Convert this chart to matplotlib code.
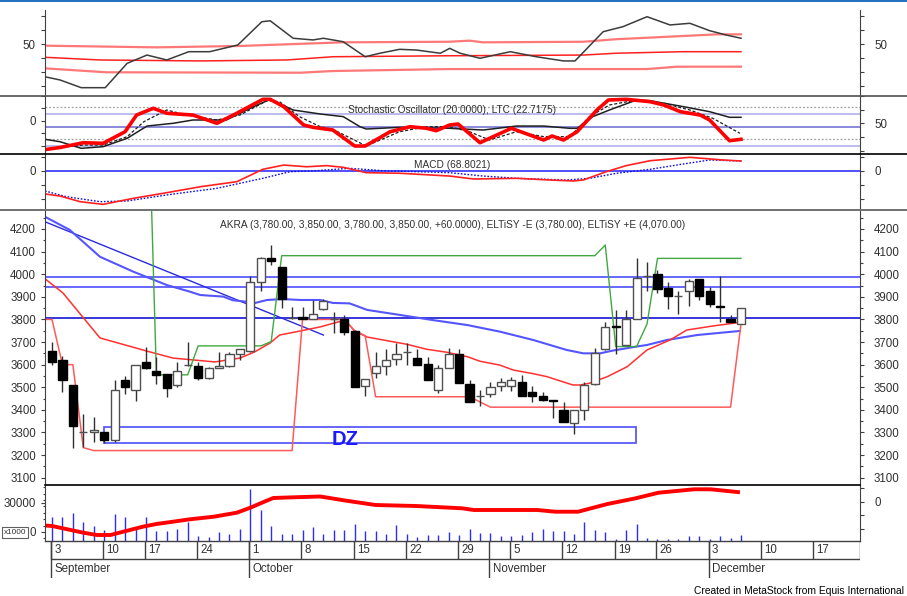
import matplotlib
matplotlib.use("Agg")
import matplotlib.pyplot as plt
from matplotlib import font_manager
from matplotlib.lines import Line2D
from matplotlib.patches import Rectangle

# ---- candles: AKRA daily, trading-day index 0 = 3 Sep 2018 ----
opens = [3660, 3620, 3510, 3300, 3300, 3300, 3265, 3530, 3490, 3610,
         3570, 3560, 3510, 3600, 3595, 3540, 3585, 3595, 3645, 3660,
         3965, 4070, 4030, 3805, 3810, 3800, 3845, 3800, 3800, 3750,
         3505, 3565, 3595, 3625, 3655, 3630, 3605, 3490, 3585, 3645,
         3515, 3460, 3470, 3505, 3505, 3525, 3480, 3460, 3445, 3400,
         3340, 3400, 3515, 3670, 3770, 3685, 3800, 3990, 4000, 3940,
         3905, 3925, 3980, 3925, 3860, 3800, 3780]
highs = [3700, 3640, 3510, 3380, 3370, 3300, 3530, 3550, 3600, 3680,
         3635, 3560, 3610, 3700, 3610, 3590, 3655, 3655, 3670, 3990,
         4075, 4130, 4030, 3855, 3855, 3885, 3890, 3835, 3820, 3755,
         3535, 3655, 3670, 3695, 3695, 3670, 3635, 3600, 3675, 3670,
         3530, 3490, 3525, 3540, 3545, 3555, 3505, 3480, 3445, 3435,
         3400, 3525, 3675, 3790, 3840, 3840, 4070, 4055, 4020, 3965,
         3925, 3980, 3980, 3945, 3990, 3820, 3850]
lows = [3600, 3480, 3230, 3235, 3260, 3255, 3260, 3470, 3440, 3580,
        3515, 3455, 3500, 3595, 3530, 3535, 3585, 3590, 3620, 3655,
        3925, 4040, 3850, 3800, 3800, 3800, 3840, 3740, 3730, 3500,
        3460, 3540, 3555, 3600, 3600, 3600, 3530, 3475, 3585, 3520,
        3435, 3415, 3455, 3485, 3485, 3460, 3435, 3440, 3365, 3345,
        3295, 3355, 3510, 3665, 3645, 3685, 3800, 3925, 3915, 3845,
        3825, 3860, 3885, 3855, 3790, 3790, 3780]
closes = [3610, 3530, 3330, 3300, 3310, 3265, 3490, 3500, 3600, 3585,
          3555, 3495, 3570, 3600, 3540, 3585, 3595, 3645, 3670, 3965,
          4070, 4060, 3890, 3805, 3800, 3825, 3880, 3800, 3745, 3500,
          3535, 3595, 3620, 3645, 3655, 3600, 3530, 3585, 3645, 3520,
          3435, 3460, 3500, 3525, 3530, 3460, 3460, 3445, 3440, 3345,
          3400, 3510, 3650, 3765, 3765, 3800, 3985, 3990, 3935, 3905,
          3905, 3970, 3905, 3870, 3855, 3790, 3850]
# volume, x1000 shares
volumes = [24600, 24600, 28750, 18800, 14700, 10860, 27700, 24600, 13650, 24600,
           9820, 9820, 11890, 18800, 4650, 3930, 8790, 6720, 11890, 52940,
           31540, 14990, 6720, 6720, 10860, 13960, 6720, 10860, 10860, 17060,
           9820, 9820, 6720, 16030, 6720, 3310, 5690, 5690, 8480, 5690,
           11890, 7440, 7440, 4650, 4650, 5690, 8480, 11890, 9820, 9820,
           6720, 18800, 10860, 8480, 1550, 10860, 17060, 2270, 1240, 1240,
           1240, 4650, 4650, 1240, 4650, 2270, 5690]

# ---- price overlays (day index, value) ----
ma_red_day = [-0.67, 1.05, 4.6, 9.4, 11.6, 15.6, 18, 19.4, 20.9, 21.8, 23.8, 25.7, 27.5,
              28.3, 29, 30.2, 34, 35.9, 37.8, 39.8, 41, 42.9, 44.2, 46.1, 47.4, 49.9,
              50.6, 51.5, 53.2, 55.1, 57, 59.2, 60.8, 63.3, 65.9]
ma_red_val = [3980, 3917, 3718, 3656, 3629, 3612, 3629, 3656, 3696, 3731, 3749, 3767, 3790,
              3785, 3748, 3722, 3690, 3668, 3655, 3635, 3615, 3598, 3576, 3560, 3547, 3510,
              3510, 3518, 3547, 3591, 3665, 3709, 3753, 3771, 3787]
ma_blue_day = [-0.67, 1.7, 4.6, 7.8, 11, 13.2, 14.2, 16.4, 17.3, 18.7, 19.3, 20.6, 22.1,
               23.8, 25.7, 26.9, 28.5, 30.2, 33.3, 36.5, 39.8, 42.9, 46.1, 49.3, 50.9,
               52.5, 53.7, 56, 57, 58.9, 61.8, 65.9]
ma_blue_val = [4254, 4196, 4077, 4011, 3952, 3923, 3908, 3901, 3885, 3878, 3871, 3886, 3890,
               3886, 3886, 3873, 3871, 3842, 3820, 3797, 3775, 3746, 3709, 3665, 3650,
               3650, 3662, 3680, 3687, 3709, 3731, 3749]
trend_day = [-0.67, 26]
trend_val = [4232, 3731]
stop_lo_day = [-0.67, 0, 1, 2, 3, 4, 23, 24, 28, 29, 30, 31, 40, 41, 42, 65, 66]
stop_lo_val = [3800, 3800, 3600, 3600, 3233, 3220, 3220, 3800, 3800, 3750, 3728, 3458,
               3458, 3435, 3412, 3412, 3780]
stop_hi_day = [9, 10, 13, 14, 20, 21, 22, 52, 53, 54, 56, 57, 58, 66]
stop_hi_val = [5150, 3555, 3555, 3683, 3683, 3702, 4082, 4082, 4129, 3680, 3680, 3780,
               4070, 4070]
levels_light = [3987, 3945]
level_dark = 3805
dz_days = (5.0, 55.9)
dz_prices = (3254, 3326)

# ---- top panel ----
top_day = [-0.67, 0.77, 2.8, 5.1, 7.2, 9.1, 11, 13.1, 15.1, 17.8, 20.1, 20.9, 23.1, 25,
           26, 27.9, 30, 31.4, 33.3, 34.9, 37.2, 38.1, 39.1, 41, 43.9, 46.4, 49, 50.1,
           52.8, 54.7, 57, 59.2, 61.1, 63, 64.6, 66]
top_val = [26.6, 24.3, 18.8, 18.8, 36.2, 42.1, 38.6, 44.5, 44.5, 49.3, 65.9, 66.6, 54.1,
           52.9, 54.1, 51.6, 40.9, 43.4, 46.2, 45.7, 43.4, 46.9, 43.4, 39.8, 44.5, 40.9,
           37.9, 37.9, 58.8, 62.4, 69.5, 63.6, 64.8, 59.5, 56.4, 54.1]
band_up_day = [-0.67, 10, 18, 27.9, 38, 40, 41.3, 50.9, 54, 60.4, 63.7, 66]
band_up_val = [48.8, 47.6, 48.6, 51.2, 51.6, 52.4, 51.2, 51.6, 53.4, 55.7, 56.9, 56.9]
band_mid_day = [-0.67, 4.6, 14.2, 22.5, 26.9, 38, 50.9, 54, 60.4, 66]
band_mid_val = [40.5, 38.6, 37.9, 38.6, 40.9, 41.6, 42.1, 43.4, 44.5, 44.5]
band_lo_day = [-0.67, 5.2, 23.8, 26.9, 38, 57, 59.9, 66]
band_lo_val = [32.6, 29.8, 29.5, 30.7, 32.1, 32.1, 33.8, 33.8]

# ---- stochastic panel ----
stk_day = [-0.67, 0.77, 3, 4.9, 7, 8.1, 9.7, 11, 13.5, 15.8, 17.7, 20.2, 20.9, 22.2, 24.1,
           25, 26.9, 29, 30, 32.4, 34.3, 35.9, 36.8, 38.1, 38.9, 41, 44, 47.1, 47.9, 49,
           50.3, 52.2, 53.3, 55, 57.3, 58.6, 60.2, 62.1, 63, 64.9, 66]
stk_val = [2.2, 6, 14.7, 13.6, 34.7, 65, 77.3, 68.2, 65, 50, 68.2, 93.6, 93.6, 80.2, 47,
           42.7, 37.8, 8.7, 8.7, 34.7, 43.8, 40.9, 36.5, 47, 48.7, 14.7, 40.9, 19.6, 26.9,
           19.6, 34.7, 74.2, 92.4, 93.6, 89.3, 83.3, 71.1, 65, 56, 18.4, 20.9]
std_day = [-0.67, 3, 4.9, 7.2, 8.8, 11, 12.9, 15.8, 18, 20.6, 21.8, 23.7, 25.7, 26.9, 30.1,
           33.3, 35.9, 38.1, 40, 41.9, 44.5, 47.1, 49.6, 51.5, 53.4, 56, 58.6, 61.1, 63.3,
           65.9]
std_val = [3, 10.5, 10.5, 25.7, 52.9, 74.2, 65, 56, 65, 91.1, 89.3, 62.1, 43.8, 39.1, 8.7,
           34.7, 43.8, 43.8, 34.7, 19.6, 34.7, 25.7, 25.7, 62.1, 83.3, 92.4, 86.4, 74.2,
           59.1, 31.8]
ltc_day = [-0.67, 0.77, 2.8, 4.9, 7.2, 9.1, 11.6, 13.5, 16.7, 19.3, 20.9, 23.1, 25.7, 27.9,
           29.5, 30.1, 33.3, 38.1, 41.3, 44.5, 47.1, 49.6, 50.3, 51.8, 53.4, 56, 57.3,
           60.5, 63, 64.9, 66]
ltc_val = [20.9, 16.5, 4.5, 7.5, 22.7, 45, 50, 56, 56, 80.2, 93.6, 74.2, 66.9, 62.1, 43.8,
           39.6, 42.7, 40.9, 37.8, 45, 45, 40.9, 40.9, 62.1, 74.2, 92.4, 91.1, 80.2, 71.1,
           60.9, 60.9]

# ---- MACD panel ----
macd_day = [-0.67, 0.77, 2.7, 4.9, 7.8, 11, 14.2, 17.7, 20.2, 22.2, 24.4, 26.3, 27.9, 30.1,
            33.3, 38.1, 40.4, 44.5, 47.7, 49.9, 50.9, 53.1, 55, 57.3, 61.1, 64.3, 66]
macd_val = [-165, -180, -220, -239, -196, -156, -114, -78, 10, 40, 28, 36, 24, -14, -18,
            -38, -59, -54, -66, -73, -66, -7, 36, 71, 95, 76, 69]
sig_day = [-0.67, 1.4, 4.6, 7.2, 11, 15.8, 20.2, 22.8, 25.3, 28.5, 31.7, 38.1, 41.3, 44.5,
           49.3, 51.5, 54.1, 57.3, 60.5, 63, 66]
sig_val = [-144, -185, -220, -215, -172, -125, -54, -7, 0, 17, 0, -14, -38, -54, -66, -54,
           -18, 10, 48, 76, 69]

# ---- volume moving average ----
vma_day = [-0.67, 0, 3, 4.3, 5.6, 7.2, 8.7, 10, 11.6, 13.2, 15.5, 17.7, 19, 20.2, 21.2,
           23.1, 25.7, 28.2, 31, 34.9, 39.3, 40.4, 46.5, 48.2, 50.4, 53.2, 55.9, 58.1,
           61.5, 63.1, 65.9]
vma_val = [15500, 15000, 8070, 5690, 5690, 10130, 14270, 17060, 19440, 21920, 24610, 28750,
           33920, 39500, 43950, 44670, 45500, 41150, 36700, 35670, 33290, 31540, 31540,
           29780, 29780, 37740, 43630, 49420, 52940, 52940, 49840]

# ---- date axis ----
week_days = [0, 5, 9, 14, 19, 24, 29, 34, 39, 44, 49, 54, 58, 63, 68, 73]
week_labels = ['3', '10', '17', '24', '1', '8', '15', '22', '29', '5', '12', '19', '26',
               '3', '10', '17']
month_days = [0, 19, 42, 63]
month_labels = ['September', 'October', 'November', 'December']

header = ("AKRA (3,780.00, 3,850.00, 3,780.00, 3,850.00, +60.0000), "
          "ELTiSY -E (3,780.00), ELTiSY +E (4,070.00)")

# ---------------- styling ----------------
installed = {f.name for f in font_manager.fontManager.ttflist}
plt.rcParams['font.family'] = ['Liberation Sans', 'DejaVu Sans']
if 'Liberation Sans Narrow' in installed:
    NARROW, NARROW_SIZE = 'Liberation Sans Narrow', 8.6
else:
    NARROW, NARROW_SIZE = 'Liberation Sans', 7.3

W, H = 907, 596
X0, X1 = 45, 860
XLIM = (-0.67, 77.4)
AXIS_C = '#404040'
TEXT_C = '#303030'
LAB = 8.3

fig = plt.figure(figsize=(W / 100, H / 100), dpi=100)


def fy(ypx):
    return 1 - ypx / H


def panel(top, bottom, ylim):
    ax = fig.add_axes([X0 / W, fy(bottom), (X1 - X0) / W, (bottom - top) / H])
    ax.set_xlim(*XLIM)
    ax.set_ylim(*ylim)
    ax.spines[['top', 'bottom']].set_visible(False)
    ax.spines[['left', 'right']].set_color(AXIS_C)
    ax.tick_params(axis='x', bottom=False, labelbottom=False)
    ax.patch.set_alpha(0)
    return ax


def yticks(ax, major, labels, minor=(), right=False):
    a = ax
    if right:
        a = ax.twinx()
        a.set_ylim(ax.get_ylim())
        a.spines[:].set_visible(False)
    a.set_yticks(major, labels)
    a.set_yticks(minor, minor=True)
    a.tick_params(axis='y', which='major', length=2.9, width=0.8, color=AXIS_C,
                  labelsize=LAB, labelcolor=TEXT_C, pad=7.2 if right else 3.6)
    a.tick_params(axis='y', which='minor', length=1.8, width=0.8, color=AXIS_C)


def hline_fig(ypx, x0, x1, color, lw):
    fig.add_artist(Line2D([x0, x1], [fy(ypx), fy(ypx)], color=color, lw=lw))


# ---- top panel ----
ax_top = panel(10, 95.7, (13.07, 74.29))
ax_top.plot(band_up_day, band_up_val, color='#ff7878', lw=1.6)
ax_top.plot(band_mid_day, band_mid_val, color='#ff2020', lw=1.1)
ax_top.plot(band_lo_day, band_lo_val, color='#ff7878', lw=1.6)
ax_top.plot(top_day, top_val, color='#3c3c3c', lw=1.1)
yticks(ax_top, [20, 30, 40, 50, 60, 70], ['', '', '', '50', '', ''])
yticks(ax_top, [20, 30, 40, 50, 60, 70], ['', '', '', '50', '', ''], right=True)

# ---- stochastic panel ----
ax_st = panel(95.7, 154, (-5.82, 100.18))
for lv, c in ((66.9, '#a8a8e8'), (42.7, '#6a6ad0'), (8.7, '#a8a8e8')):
    ax_st.axhline(lv, color=c, lw=1.1)
for lv in (79, 22):
    ax_st.axhline(lv, color='#a0a0a0', lw=0.9, ls=(0, (1.5, 1.5)))
ax_st.plot(ltc_day, ltc_val, color='#202020', lw=1.1)
ax_st.plot(std_day, std_val, color='#202020', lw=0.9, ls=(0, (2.5, 1.5)))
ax_st.plot(stk_day, stk_val, color='#ff0000', lw=2.6, solid_joinstyle='round')
ax_st.text(0.5, 0.755, 'Stochastic Oscillator (20.0000), LTC (22.7175)',
           transform=ax_st.transAxes, ha='center', va='center', fontsize=NARROW_SIZE,
           family=NARROW, color=TEXT_C)
yticks(ax_st, [9.3, 32, 54.7, 77.4, 100.1], ['', '', '0', '', ''])
yticks(ax_st, [0, 25, 50, 75, 100], ['', '', '50', '', ''], right=True)

# ---- MACD panel ----
ax_m = panel(154, 209.5, (-275.5, 118.6))
ax_m.axhline(0, color='#2020ff', lw=1.1)
ax_m.plot(sig_day, sig_val, color='#1010e0', lw=1.0, ls=(0, (1.2, 1.2)))
ax_m.plot(macd_day, macd_val, color='#ff2020', lw=1.2)
ax_m.text(0.5, 0.80, 'MACD (68.8021)', transform=ax_m.transAxes, ha='center',
          va='center', fontsize=NARROW_SIZE, family=NARROW, color=TEXT_C)
yticks(ax_m, [-200, -100, 0, 100], ['', '', '0', ''])
yticks(ax_m, [-200, -100, 0, 100], ['', '', '0', ''], right=True)

# ---- price panel ----
ax_p = panel(209.5, 485, (3067.7, 4286.2))
for lv in levels_light:
    ax_p.axhline(lv, color='#5c5cff', lw=1.3)
ax_p.axhline(level_dark, color='#0000d0', lw=1.1)
ax_p.add_patch(Rectangle((dz_days[0], dz_prices[0]), dz_days[1] - dz_days[0],
                         dz_prices[1] - dz_prices[0], fill=False, edgecolor='#5a5aff',
                         lw=1.3))
ax_p.text(28.1, 3268, 'DZ', ha='center', va='center', fontsize=14.5, weight='bold',
          family=NARROW, color='#1a1aff')
ax_p.plot(trend_day, trend_val, color='#2a2ae0', lw=1.0)
ax_p.plot(ma_blue_day, ma_blue_val, color='#5555ff', lw=1.5)
ax_p.plot(ma_red_day, ma_red_val, color='#ff3030', lw=1.1)
ax_p.plot(stop_lo_day, stop_lo_val, color='#ff5a5a', lw=1.1)
ax_p.plot(stop_hi_day, stop_hi_val, color='#40a840', lw=1.0)

days = list(range(len(closes)))
ax_p.vlines(days, lows, highs, color='#303030', lw=1.0, zorder=3)
for d, o, c in zip(days, opens, closes):
    down = c < o
    ax_p.bar(d, max(abs(c - o), 0.5), bottom=min(o, c), width=0.78,
             color='black' if down else 'white',
             edgecolor='black' if down else '#505050', lw=1.0, zorder=4)
ax_p.text(0.5, 0.944, header, transform=ax_p.transAxes, ha='center', va='center',
          fontsize=NARROW_SIZE, family=NARROW, color=TEXT_C)
p_major = list(range(3100, 4201, 100))
p_minor = list(range(3150, 4251, 100))
yticks(ax_p, p_major, [str(v) for v in p_major], p_minor)
yticks(ax_p, p_major, [str(v) for v in p_major], p_minor, right=True)

# ---- volume panel ----
VOL_LABEL_SHIFT = 8790  # MetaStock draws its volume labels above the bar baseline
ax_v = panel(485, 540.5, (0, 57390))
ax_v.vlines(days, 0, volumes, color='#2c2cff', lw=1.0)
ax_v.plot(vma_day, vma_val, color='#ff0000', lw=2.8, solid_capstyle='butt')
yticks(ax_v, [VOL_LABEL_SHIFT, 30000 + VOL_LABEL_SHIFT], ['0', '30000'],
       [VOL_LABEL_SHIFT + k * 6620 for k in range(-1, 8) if k not in (0,)])
yticks(ax_v, [11900, 26400, 40100, 54300], ['', '', '0', ''], right=True)
fig.text(15 / W, fy(532.5), 'x1000', fontsize=5.9, ha='center', va='center',
         color=TEXT_C, bbox=dict(boxstyle='square,pad=0.2', fc='white', ec='#606060',
                                 lw=0.8))

# ---- date axis ----
ax_d = fig.add_axes([X0 / W, fy(578), (X1 - X0) / W, (578 - 540.5) / H])
ax_d.set_xlim(*XLIM)
ax_d.set_ylim(0, 1)
ax_d.axis('off')
ax_d.vlines([d - 0.1 for d in week_days], 0.5, 1, color=AXIS_C, lw=1.0)
ax_d.vlines([d - 0.1 for d in month_days], 0, 1, color=AXIS_C, lw=1.0)
ax_d.vlines(XLIM[1], 0.5, 1, color=AXIS_C, lw=1.0)
ax_d.hlines(0.5, -0.1, XLIM[1], color=AXIS_C, lw=1.0)
for d, lab in zip(week_days, week_labels):
    ax_d.text(d + 0.2, 0.74, lab, ha='left', va='center', fontsize=LAB, color=TEXT_C)
for d, lab in zip(month_days, month_labels):
    ax_d.text(d + 0.2, 0.24, lab, ha='left', va='center', fontsize=LAB, color=TEXT_C)

# ---- frame lines ----
hline_fig(0.7, 0, 1, '#1f6fbf', 1.4)
hline_fig(95.7, 0, 1, '#505050', 1.2)
hline_fig(154, 0, 1, '#000000', 1.2)
hline_fig(209.5, 0, 1, '#707070', 1.4)
hline_fig(485, X0 / W, X1 / W, '#000000', 1.2)
hline_fig(540.5, X0 / W, X1 / W, '#404040', 1.0)

# the reference clips this at the window edge; keep it whole, anchored right
fig.text(904 / W, fy(591), 'Created in MetaStock from Equis International',
         fontsize=7.4, ha='right', va='center', color='black')

fig.savefig('out.png', dpi=100)
